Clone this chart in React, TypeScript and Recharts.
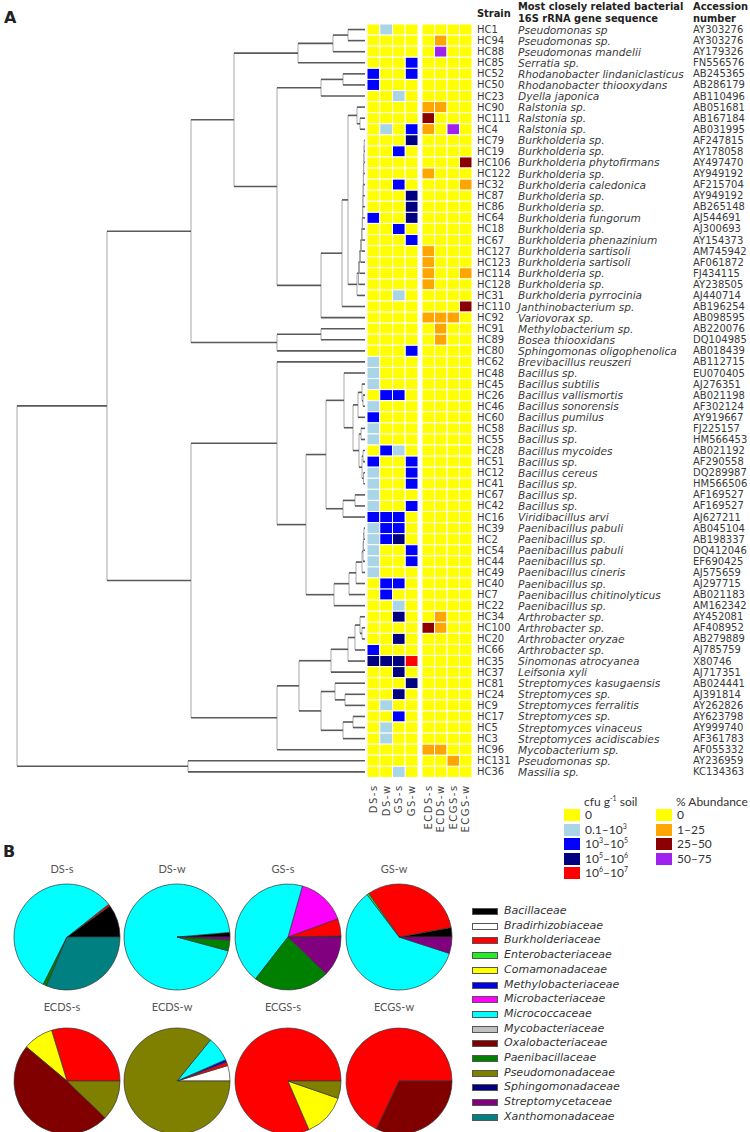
import React from 'react';
import { ScatterChart, Scatter, XAxis, YAxis, ReferenceLine, PieChart, Pie, Cell } from 'recharts';

// ---- panel A: strains ----
const STRAINS = [
  'HC1', 'HC94', 'HC88', 'HC85', 'HC52', 'HC50', 'HC23', 'HC90', 'HC111', 'HC4',
  'HC79', 'HC19', 'HC106', 'HC122', 'HC32', 'HC87', 'HC86', 'HC64', 'HC18', 'HC67',
  'HC127', 'HC123', 'HC114', 'HC128', 'HC31', 'HC110', 'HC92', 'HC91', 'HC89', 'HC80',
  'HC62', 'HC48', 'HC45', 'HC26', 'HC46', 'HC60', 'HC58', 'HC55', 'HC28', 'HC51',
  'HC12', 'HC41', 'HC67', 'HC42', 'HC16', 'HC39', 'HC2', 'HC54', 'HC44', 'HC49',
  'HC40', 'HC7', 'HC22', 'HC34', 'HC100', 'HC20', 'HC66', 'HC35', 'HC37', 'HC81',
  'HC24', 'HC9', 'HC17', 'HC5', 'HC3', 'HC96', 'HC131', 'HC36',
];

const SPECIES = [
  'Pseudomonas sp', 'Pseudomonas sp.', 'Pseudomonas mandelii', 'Serratia sp.', 'Rhodanobacter lindaniclasticus',
  'Rhodanobacter thiooxydans', 'Dyella japonica', 'Ralstonia sp.', 'Ralstonia sp.', 'Ralstonia sp.',
  'Burkholderia sp.', 'Burkholderia sp.', 'Burkholderia phytofirmans', 'Burkholderia sp.', 'Burkholderia caledonica',
  'Burkholderia sp.', 'Burkholderia sp.', 'Burkholderia fungorum', 'Burkholderia sp.', 'Burkholderia phenazinium',
  'Burkholderia sartisoli', 'Burkholderia sartisoli', 'Burkholderia sp.', 'Burkholderia sp.', 'Burkholderia pyrrocinia',
  'Janthinobacterium sp.', 'Variovorax sp.', 'Methylobacterium sp.', 'Bosea thiooxidans', 'Sphingomonas oligophenolica',
  'Brevibacillus reuszeri', 'Bacillus sp.', 'Bacillus subtilis', 'Bacillus vallismortis', 'Bacillus sonorensis',
  'Bacillus pumilus', 'Bacillus sp.', 'Bacillus sp.', 'Bacillus mycoides', 'Bacillus sp.',
  'Bacillus cereus', 'Bacillus sp.', 'Bacillus sp.', 'Bacillus sp.', 'Viridibacillus arvi',
  'Paenibacillus pabuli', 'Paenibacillus sp.', 'Paenibacillus pabuli', 'Paenibacillus sp.', 'Paenibacillus cineris',
  'Paenibacillus sp.', 'Paenibacillus chitinolyticus', 'Paenibacillus sp.', 'Arthrobacter sp.', 'Arthrobacter sp.',
  'Arthrobacter oryzae', 'Arthrobacter sp.', 'Sinomonas atrocyanea', 'Leifsonia xyli', 'Streptomyces kasugaensis',
  'Streptomyces sp.', 'Streptomyces ferralitis', 'Streptomyces sp.', 'Streptomyces vinaceus', 'Streptomyces acidiscabies',
  'Mycobacterium sp.', 'Pseudomonas sp.', 'Massilia sp.',
];

const ACCESSIONS = [
  'AY303276', 'AY303276', 'AY179326', 'FN556576', 'AB245365', 'AB286179', 'AB110496', 'AB051681', 'AB167184', 'AB031995',
  'AF247815', 'AY178058', 'AY497470', 'AY949192', 'AF215704', 'AY949192', 'AB265148', 'AJ544691', 'AJ300693', 'AY154373',
  'AM745942', 'AF061872', 'FJ434115', 'AY238505', 'AJ440714', 'AB196254', 'AB098595', 'AB220076', 'DQ104985', 'AB018439',
  'AB112715', 'EU070405', 'AJ276351', 'AB021198', 'AF302124', 'AY919667', 'FJ225157', 'HM566453', 'AB021192', 'AF290558',
  'DQ289987', 'HM566506', 'AF169527', 'AF169527', 'AJ627211', 'AB045104', 'AB198337', 'DQ412046', 'EF690425', 'AJ575659',
  'AJ297715', 'AB021183', 'AM162342', 'AY452081', 'AF408952', 'AB279889', 'AJ785759', 'X80746', 'AJ717351', 'AB024441',
  'AJ391814', 'AY262826', 'AY623798', 'AY999740', 'AF361783', 'AF055332', 'AY236959', 'KC134363',
];

// cfu classes: 0 = 0, 1 = 0.1-10^3, 2 = 10^3-10^5, 3 = 10^5-10^6, 4 = 10^6-10^7
const DS_S = [
  0, 0, 0, 0, 2, 2, 0, 0, 0, 0,
  0, 0, 0, 0, 0, 0, 0, 2, 0, 0,
  0, 0, 0, 0, 0, 0, 0, 0, 0, 0,
  1, 1, 1, 0, 1, 2, 1, 1, 0, 2,
  1, 1, 1, 1, 2, 1, 1, 1, 1, 1,
  0, 0, 0, 0, 0, 0, 2, 3, 0, 0,
  0, 0, 0, 0, 0, 0, 0, 0,
];
const DS_W = [
  1, 0, 0, 0, 0, 0, 0, 0, 0, 1,
  0, 0, 0, 0, 0, 0, 0, 0, 0, 0,
  0, 0, 0, 0, 0, 0, 0, 0, 0, 0,
  0, 0, 0, 2, 0, 0, 0, 0, 2, 0,
  0, 0, 0, 0, 2, 2, 2, 0, 0, 0,
  2, 2, 0, 0, 0, 0, 0, 3, 0, 0,
  0, 1, 0, 1, 1, 0, 0, 0,
];
const GS_S = [
  0, 0, 0, 0, 0, 0, 1, 0, 0, 0,
  0, 2, 0, 0, 2, 0, 0, 0, 2, 0,
  0, 0, 0, 0, 1, 0, 0, 0, 0, 0,
  0, 0, 0, 2, 0, 0, 0, 0, 1, 0,
  0, 0, 0, 0, 2, 2, 3, 0, 0, 0,
  2, 0, 1, 3, 0, 3, 0, 3, 3, 0,
  3, 0, 2, 0, 0, 0, 0, 1,
];
const GS_W = [
  0, 0, 0, 2, 2, 0, 0, 0, 0, 2,
  3, 0, 0, 0, 0, 3, 3, 3, 0, 2,
  0, 0, 0, 0, 0, 0, 0, 0, 0, 2,
  0, 0, 0, 0, 0, 0, 0, 0, 0, 2,
  2, 2, 0, 2, 0, 0, 0, 2, 2, 0,
  0, 0, 0, 0, 0, 0, 0, 4, 0, 3,
  0, 0, 0, 0, 0, 0, 0, 0,
];

// % abundance classes: 0 = 0, 1 = 1-25, 2 = 25-50, 3 = 50-75
const ECDS_S = [
  0, 0, 0, 0, 0, 0, 0, 1, 2, 1,
  0, 0, 0, 1, 0, 0, 0, 0, 0, 0,
  1, 1, 1, 1, 0, 0, 1, 0, 0, 0,
  0, 0, 0, 0, 0, 0, 0, 0, 0, 0,
  0, 0, 0, 0, 0, 0, 0, 0, 0, 0,
  0, 0, 0, 0, 2, 0, 0, 0, 0, 0,
  0, 0, 0, 0, 0, 1, 0, 0,
];
const ECDS_W = [
  0, 1, 3, 0, 0, 0, 0, 1, 0, 0,
  0, 0, 0, 0, 0, 0, 0, 0, 0, 0,
  0, 0, 0, 0, 0, 0, 1, 1, 1, 0,
  0, 0, 0, 0, 0, 0, 0, 0, 0, 0,
  0, 0, 0, 0, 0, 0, 0, 0, 0, 0,
  0, 0, 0, 1, 1, 0, 0, 0, 0, 0,
  0, 0, 0, 0, 0, 1, 0, 0,
];
const ECGS_S = [
  0, 0, 0, 0, 0, 0, 0, 0, 0, 3,
  0, 0, 0, 0, 0, 0, 0, 0, 0, 0,
  0, 0, 0, 0, 0, 0, 1, 0, 0, 0,
  0, 0, 0, 0, 0, 0, 0, 0, 0, 0,
  0, 0, 0, 0, 0, 0, 0, 0, 0, 0,
  0, 0, 0, 0, 0, 0, 0, 0, 0, 0,
  0, 0, 0, 0, 0, 0, 1, 0,
];
const ECGS_W = [
  0, 0, 0, 0, 0, 0, 0, 0, 0, 0,
  0, 0, 2, 0, 1, 0, 0, 0, 0, 0,
  0, 0, 1, 0, 0, 2, 0, 0, 0, 0,
  0, 0, 0, 0, 0, 0, 0, 0, 0, 0,
  0, 0, 0, 0, 0, 0, 0, 0, 0, 0,
  0, 0, 0, 0, 0, 0, 0, 0, 0, 0,
  0, 0, 0, 0, 0, 0, 0, 0,
];

const CFU_LABELS = ['DS-s', 'DS-w', 'GS-s', 'GS-w'];
const ABUND_LABELS = ['ECDS-s', 'ECDS-w', 'ECGS-s', 'ECGS-w'];
const CFU_CLASSES = ['0', '0.1–10|3', '10|3|–10|5', '10|5|–10|6', '10|6|–10|7'];
const ABUND_CLASSES = ['0', '1–25', '25–50', '50–75'];
const CFU_COLORS = ['#ffff00', '#a9d5e6', '#0000ff', '#000080', '#ff0000'];
const ABUND_COLORS = ['#ffff00', '#ffa500', '#8b0000', '#a020f0'];

// dendrogram: [height, left, right], leaves are row numbers
const BURK_ROWS = [11, 12, 13, 14, 15, 16, 17, 18, 19, 20, 21, 22, 23, 24, 25];
const BURK_H = [0.8, 1, 1.2, 1.5, 1.7, 2, 2.2, 2.5, 2.8, 3.5, 4.5, 5.5, 6.5, 8];
const PAEN_ROWS = [46, 47, 48, 49, 50];
const PAEN_H = [1, 1.5, 2, 3];

type Node = number | [number, Node, Node];
const comb = (rows: number[], hs: number[]): Node =>
  rows.slice(1).reduce<Node>((acc, r, i) => [hs[i], acc, r], rows[0]);

const TREE: Node = [348,
  [258,
    [174,
      [131,
        [67, [32, [17, 1, 2], 3], 4],
        [88,
          [44, [22, 5, 6], 7],
          [44,
            [23, [17, [8, 8, [5, 9, 10]], comb(BURK_ROWS, BURK_H)], 26],
            27]]],
      [88, [44, 28, 29], 30]],
    [174,
      [88, 31,
        [59,
          [39,
            [21, 32, [12, [7, [3, 33, [2, 34, 35]], 36], [6, [4, 37, 38], [3, [2, 39, 40], [1.5, 41, 42]]]]],
            [22, [10, 43, 44], 45]],
          [31, [16, [9, comb(PAEN_ROWS, PAEN_H), 51], 52], 53]]],
      [88,
        [66,
          [34, [17, [10, [5, 54, [3, 55, 56]], 57], 58], 59],
          [44, [30, 60, [20, 61, 62]], [22, [12, 63, 64], 65]]],
        66]]],
  [177, 67, 68]];

// ---- panel B: families ----
const FAMILIES = [
  'Bacillaceae', 'Bradirhizobiaceae', 'Burkholderiaceae', 'Enterobacteriaceae', 'Comamonadaceae',
  'Methylobacteriaceae', 'Microbacteriaceae', 'Micrococcaceae', 'Mycobacteriaceae', 'Oxalobacteriaceae',
  'Paenibacillaceae', 'Pseudomonadaceae', 'Sphingomonadaceae', 'Streptomycetaceae', 'Xanthomonadaceae',
];
const FAMILY_COLORS = [
  '#000000', '#ffffff', '#ff0000', '#22ee22', '#ffff00',
  '#0000e0', '#ff00ff', '#00ffff', '#c0c0c0', '#800000',
  '#008000', '#808000', '#000080', '#800080', '#008080',
];

const PIE_DS_S = [10, 0, 0.6, 0, 0, 0, 0, 57, 0, 0, 1.1, 0, 0, 0, 31.3];
const PIE_DS_W = [1.4, 0, 0, 0, 0, 0, 0, 94.4, 0, 0, 3.3, 0, 0, 0.9, 0];
const PIE_GS_S = [0.3, 0, 5.3, 0, 0, 0, 15, 43.9, 0, 0, 23.3, 0, 0, 12.2, 0];
const PIE_GS_W = [2.9, 0, 31.8, 0.6, 0, 0, 0, 59.7, 0, 0, 0, 0, 0, 5, 0];
const PIE_ECDS_S = [0, 0, 29.7, 0, 9.2, 0, 0, 0, 0, 48.9, 0, 12.2, 0, 0, 0];
const PIE_ECDS_W = [0, 4.7, 1.1, 0, 0, 0.8, 0, 7.5, 0, 0, 0, 85.9, 0, 0, 0];
const PIE_ECGS_S = [0, 0, 81.5, 0, 13.2, 0, 0, 0, 0, 0, 0, 5.3, 0, 0, 0];
const PIE_ECGS_W = [0, 0, 68, 0, 0, 0, 0, 0, 0, 32, 0, 0, 0, 0, 0];

const PIES = [
  { name: 'DS-s', values: PIE_DS_S }, { name: 'DS-w', values: PIE_DS_W },
  { name: 'GS-s', values: PIE_GS_S }, { name: 'GS-w', values: PIE_GS_W },
  { name: 'ECDS-s', values: PIE_ECDS_S }, { name: 'ECDS-w', values: PIE_ECDS_W },
  { name: 'ECGS-s', values: PIE_ECGS_S }, { name: 'ECGS-w', values: PIE_ECGS_W },
];

// ---- layout ----
const CH = 850;
const TOP = 24;
const PLOT_H = 753.4;
const ROW_H = PLOT_H / STRAINS.length;
const X_AX_H = 60;
const BOTTOM = CH - TOP - PLOT_H - X_AX_H;
const FONT = '"DejaVu Sans", Verdana, sans-serif';
const ROWS = STRAINS.map((_, i) => i + 1);

type Seg = { x1: number; y1: number; x2: number; y2: number; v: boolean };
const layoutTree = (n: Node, segs: Seg[]): { y: number; h: number } => {
  if (typeof n === 'number') return { y: n, h: 0 };
  const [h, a, b] = n;
  const A = layoutTree(a, segs);
  const B = layoutTree(b, segs);
  segs.push({ x1: h, y1: A.y, x2: h, y2: B.y, v: true });
  segs.push({ x1: A.h, y1: A.y, x2: h, y2: A.y, v: false });
  segs.push({ x1: B.h, y1: B.y, x2: h, y2: B.y, v: false });
  return { y: (A.y + B.y) / 2, h };
};

const Dendrogram = () => {
  const segs: Seg[] = [];
  layoutTree(TREE, segs);
  const ordered = [...segs.filter((s) => s.v), ...segs.filter((s) => !s.v)];
  const leaves = ROWS.map((r) => ({ h: 0, r }));
  return (
    <ScatterChart width={370} height={CH} margin={{ top: TOP, right: 5, bottom: BOTTOM + X_AX_H, left: 17 }}>
      <XAxis type="number" dataKey="h" domain={[0, 348]} reversed hide />
      <YAxis type="number" dataKey="r" domain={[0.5, STRAINS.length + 0.5]} reversed hide />
      <Scatter data={leaves} isAnimationActive={false} shape={() => <g />} />
      {ordered.map((s, i) => (
        <ReferenceLine
          key={i}
          segment={[{ x: s.x1, y: s.y1 }, { x: s.x2, y: s.y2 }]}
          stroke={s.v ? '#a8a8a8' : '#5a5a5a'}
          strokeWidth={s.v ? 1 : 1.6}
          ifOverflow="visible"
        />
      ))}
    </ScatterChart>
  );
};

const ColTick = ({ x, y, payload, labels }: any) => (
  <text
    x={x}
    y={y}
    transform={`rotate(-90 ${x} ${y})`}
    textAnchor="end"
    dominantBaseline="central"
    fontSize={10}
    letterSpacing={1.5}
    fontFamily={FONT}
    fill="#444"
  >
    {labels[payload.value]}
  </text>
);

const TableTick = ({ x, y, payload }: any) => {
  const i = Math.round(payload.value) - 1;
  return (
    <g fontFamily={FONT} fontSize={10} fill="#3a3a3a">
      <text x={x + 5} y={y} dominantBaseline="central">{STRAINS[i]}</text>
      <text x={x + 46} y={y} dominantBaseline="central" fontStyle="italic" fontSize={10.6}>{SPECIES[i]}</text>
      <text x={x + 221} y={y} dominantBaseline="central">{ACCESSIONS[i]}</text>
    </g>
  );
};

const HeatStrip = ({ series, labels, colors, width, table }: any) => {
  const data = series.flatMap((arr: number[], c: number) => arr.map((v, i) => ({ c, r: i + 1, v })));
  const plotW = table ? width - 278 : width;
  const cw = plotW / series.length;
  return (
    <ScatterChart width={width} height={CH} margin={{ top: TOP, right: 0, bottom: BOTTOM, left: 0 }}>
      <XAxis
        type="number"
        dataKey="c"
        domain={[-0.5, series.length - 0.5]}
        ticks={labels.map((_: string, i: number) => i)}
        interval={0}
        axisLine={false}
        tickLine={false}
        tickSize={0}
        tickMargin={7}
        height={X_AX_H}
        tick={<ColTick labels={labels} />}
      />
      <YAxis
        type="number"
        dataKey="r"
        orientation="right"
        domain={[0.5, STRAINS.length + 0.5]}
        reversed
        hide={!table}
        ticks={ROWS}
        interval={0}
        width={278}
        axisLine={false}
        tickLine={false}
        tickSize={0}
        tickMargin={0}
        tick={<TableTick />}
      />
      <Scatter
        data={data}
        isAnimationActive={false}
        shape={(p: any) => (
          <rect
            x={p.cx - cw / 2}
            y={p.cy - ROW_H / 2}
            width={cw}
            height={ROW_H}
            fill={colors[p.payload.v]}
            stroke="#fff"
            strokeWidth={1}
          />
        )}
      />
    </ScatterChart>
  );
};

const Sup = ({ text }: { text: string }) => {
  const parts = text.split('|');
  return (
    <>
      {parts.map((p, i) =>
        i % 2 === 1 ? (
          <span key={i} style={{ fontSize: 7, verticalAlign: 'super', lineHeight: 0 }}>{p}</span>
        ) : (
          <span key={i}>{p}</span>
        )
      )}
    </>
  );
};

const HeatLegend = ({ left, title, classes, colors }: any) => (
  <div style={{ position: 'absolute', left, top: 795, fontFamily: 'Lato, sans-serif', fontSize: 12, color: '#333' }}>
    <div style={{ position: 'absolute', left: 20, top: 0, whiteSpace: 'nowrap', lineHeight: '14px' }}>{title}</div>
    {classes.map((c: string, i: number) => (
      <div key={i}>
        <div style={{ position: 'absolute', left: 0, top: 14 + i * 14.5, width: 16, height: 12, background: colors[i] }} />
        <div style={{ position: 'absolute', left: 21, top: 13 + i * 14.5, lineHeight: '14px', whiteSpace: 'nowrap' }}>
          <Sup text={c} />
        </div>
      </div>
    ))}
  </div>
);

const PIE_X = [62, 172, 283, 394];
const PIE_Y = [70, 214];
const PIE_TOP = 862;

const App = () => (
  <div style={{ position: 'absolute', left: 0, top: 0, width: 750, height: 1132, background: '#fff', overflow: 'hidden' }}>
    <div style={{ position: 'absolute', left: 4, top: 8, fontFamily: FONT, fontWeight: 'bold', fontSize: 16, color: '#222' }}>A</div>
    <div style={{ position: 'absolute', left: 3, top: 842, fontFamily: FONT, fontWeight: 'bold', fontSize: 16, color: '#222' }}>B</div>

    <div style={{ position: 'absolute', left: 0, top: 0 }}>
      <Dendrogram />
    </div>
    <div style={{ position: 'absolute', left: 367, top: 0 }}>
      <HeatStrip series={[DS_S, DS_W, GS_S, GS_W]} labels={CFU_LABELS} colors={CFU_COLORS} width={51} />
    </div>
    <div style={{ position: 'absolute', left: 422, top: 0 }}>
      <HeatStrip series={[ECDS_S, ECDS_W, ECGS_S, ECGS_W]} labels={ABUND_LABELS} colors={ABUND_COLORS} width={328} table />
    </div>

    <div style={{ fontFamily: FONT, fontWeight: 'bold', fontSize: 9.9, color: '#222', lineHeight: '12px' }}>
      <div style={{ position: 'absolute', left: 477, top: 8 }}>Strain</div>
      <div style={{ position: 'absolute', left: 518, top: 1, whiteSpace: 'nowrap' }}>
        Most closely related bacterial<br />16S rRNA gene sequence
      </div>
      <div style={{ position: 'absolute', left: 693, top: 1 }}>
        Accession<br />number
      </div>
    </div>

    <HeatLegend left={564} title={<span>cfu g<span style={{ fontSize: 7, verticalAlign: 'super', lineHeight: 0 }}>-1</span> soil</span>} classes={CFU_CLASSES} colors={CFU_COLORS} />
    <HeatLegend left={656} title="% Abundance" classes={ABUND_CLASSES} colors={ABUND_COLORS} />

    <div style={{ position: 'absolute', left: 0, top: PIE_TOP }}>
      <PieChart width={460} height={270}>
        {PIES.map((p, k) => {
          const data = p.values
            .map((v, i) => ({ name: FAMILIES[i], value: v, color: FAMILY_COLORS[i] }))
            .filter((d) => d.value > 0);
          return (
            <Pie
              key={p.name}
              data={data}
              dataKey="value"
              cx={PIE_X[k % 4]}
              cy={PIE_Y[Math.floor(k / 4)]}
              outerRadius={53}
              startAngle={0}
              endAngle={360}
              stroke="#333"
              strokeWidth={0.7}
              isAnimationActive={false}
            >
              {data.map((d) => (
                <Cell key={d.name} fill={d.color} />
              ))}
            </Pie>
          );
        })}
      </PieChart>
    </div>
    {PIES.map((p, k) => (
      <div
        key={p.name}
        style={{
          position: 'absolute',
          left: PIE_X[k % 4] - 40,
          width: 80,
          top: k < 4 ? 861 : 999,
          textAlign: 'center',
          fontFamily: 'Lato, sans-serif',
          fontSize: 11,
          color: '#555',
          lineHeight: '16px',
        }}
      >
        {p.name}
      </div>
    ))}

    {FAMILIES.map((f, i) => (
      <div key={f}>
        <div
          style={{
            position: 'absolute',
            left: 472,
            top: 908 + i * 14.7,
            width: 24,
            height: 5,
            background: FAMILY_COLORS[i],
            border: '1px solid #555',
          }}
        />
        <div
          style={{
            position: 'absolute',
            left: 504,
            top: 903 + i * 14.7,
            lineHeight: '16px',
            fontFamily: FONT,
            fontStyle: 'italic',
            fontSize: 11,
            color: '#333',
            whiteSpace: 'nowrap',
          }}
        >
          {f}
        </div>
      </div>
    ))}
  </div>
);

export default App;
